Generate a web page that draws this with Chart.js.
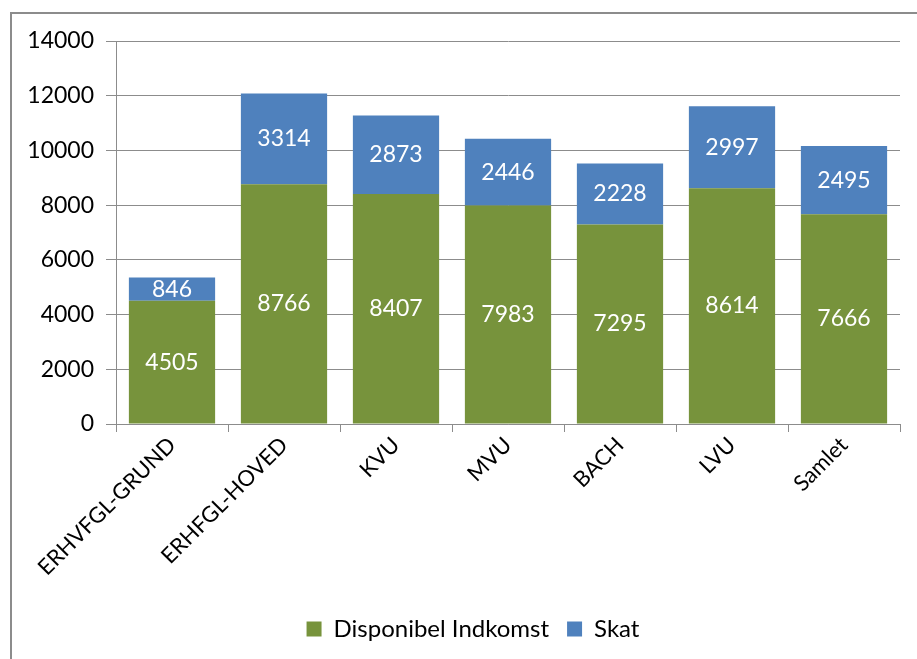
<!DOCTYPE html>
<html>
<head>
<meta charset="utf-8">
<script src="https://cdn.jsdelivr.net/npm/chart.js@4"></script>
<style>
  html, body { margin: 0; padding: 0; background: #fff; overflow: hidden; }
  #wrap { position: absolute; left: 0; top: 0; width: 917px; height: 659px; }
</style>
</head>
<body>
<div id="wrap"><canvas id="incomeChart"></canvas></div>
<script>
const categories = ["ERHVFGL-GRUND", "ERHFGL-HOVED", "KVU", "MVU", "BACH", "LVU", "Samlet"];
const disponibel = [4505, 8766, 8407, 7983, 7295, 8614, 7666];
const skat = [846, 3314, 2873, 2446, 2228, 2997, 2495];
const yTicks = [0, 2000, 4000, 6000, 8000, 10000, 12000, 14000];

const fontFamily = "Lato, 'Open Sans', sans-serif";

// frame round the whole chart (runs off the right and bottom edge)
const framePlugin = {
  id: "frame",
  beforeDraw(chart) {
    const c = chart.ctx;
    c.save();
    c.strokeStyle = "#8c8c8c";
    c.lineWidth = 2;
    c.strokeRect(11, 13, 940, 700);
    c.restore();
  }
};

// legend sits a bit right of centre in the original
const legendShift = {
  id: "legendShift",
  afterLayout(chart) {
    chart.legend.left += 12;
    chart.legend.right += 12;
  }
};

// white value labels in the middle of each segment
const valueLabels = {
  id: "valueLabels",
  afterDatasetsDraw(chart) {
    const c = chart.ctx;
    c.save();
    c.fillStyle = "#ffffff";
    c.font = "23px " + fontFamily;
    c.textAlign = "center";
    c.textBaseline = "middle";
    chart.data.datasets.forEach((ds, i) => {
      chart.getDatasetMeta(i).data.forEach((bar, j) => {
        const mid = (bar.y + bar.base) / 2;
        c.fillText(String(ds.data[j]), bar.x, mid);
      });
    });
    c.restore();
  }
};

new Chart(document.getElementById("incomeChart"), {
  type: "bar",
  data: {
    labels: categories,
    datasets: [
      { label: "Disponibel Indkomst", data: disponibel, backgroundColor: "#77933C", borderWidth: 0 },
      { label: "Skat", data: skat, backgroundColor: "#4F81BD", borderWidth: 0 }
    ]
  },
  options: {
    responsive: true,
    maintainAspectRatio: false,
    animation: false,
    layout: { padding: { top: 41, left: 22, right: 17, bottom: 8 } },
    datasets: { bar: { categoryPercentage: 0.77, barPercentage: 1.0 } },
    scales: {
      x: {
        stacked: true,
        afterFit: (axis) => { axis.height = 175; },
        grid: { display: true, drawOnChartArea: false, drawTicks: true, tickLength: 8, offset: true, color: "#8c8c8c" },
        border: { display: true, color: "#8c8c8c" },
        ticks: {
          color: "#000", font: { family: fontFamily, size: 22 },
          maxRotation: 45, minRotation: 45, padding: 0
        }
      },
      y: {
        stacked: true,
        min: 0, max: 14000,
        afterBuildTicks: (axis) => { axis.ticks = yTicks.map(v => ({ value: v })); },
        afterFit: (axis) => { axis.width = 94; },
        grid: { color: "#8c8c8c", tickLength: 10 },
        border: { display: true, color: "#8c8c8c" },
        ticks: {
          color: "#000", font: { family: fontFamily, size: 23 }, padding: 12,
          callback: (v) => String(v)
        }
      }
    },
    plugins: {
      legend: {
        position: "bottom",
        labels: {
          color: "#000", font: { family: fontFamily, size: 24 },
          boxWidth: 15, boxHeight: 15, padding: 18
        }
      },
      tooltip: { enabled: false }
    }
  },
  plugins: [framePlugin, legendShift, valueLabels]
});
</script>
</body>
</html>
